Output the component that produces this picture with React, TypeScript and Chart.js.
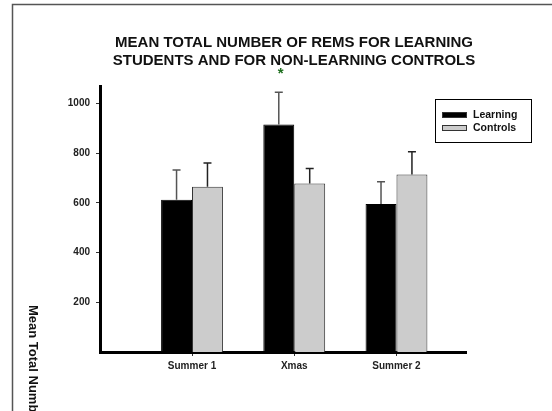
import { useEffect, useRef } from "react";
import { Chart, registerables } from "chart.js";

Chart.register(...registerables);

// Mean total REM counts per session, with the upper standard error
const categories = ["Summer 1", "Xmas", "Summer 2"];
const learningMeans = [612, 915, 595];
const learningErrors = [120, 130, 90];
const controlMeans = [665, 678, 714];
const controlErrors = [95, 60, 92];
const significance = ["", "*", ""];
const yTickValues = [200, 400, 600, 800, 1000];
const titleLines = [
  "MEAN TOTAL NUMBER OF REMS FOR LEARNING",
  "STUDENTS AND FOR NON-LEARNING CONTROLS",
];
const yAxisTitle = "Mean Total Number of REMs";
const seriesNames = ["Learning", "Controls"];

const FONT = "'Liberation Sans', Arial, Helvetica, sans-serif";

const toPoints = (values: number[]) =>
  values.map((v, i) => ({ x: i + 1, y: v }));

// Frame, title, rotated axis caption, error bars, significance mark, legend
const decorPlugin = {
  id: "decor",
  beforeDraw(chart: any) {
    const { ctx, width, height } = chart;
    ctx.save();
    ctx.fillStyle = "#ffffff";
    ctx.fillRect(0, 0, width, height);
    ctx.strokeStyle = "#555555";
    ctx.lineWidth = 1.5;
    ctx.beginPath();
    ctx.moveTo(12.5, height);
    ctx.lineTo(12.5, 4.5);
    ctx.lineTo(width, 4.5);
    ctx.stroke();
    ctx.restore();
  },
  afterDatasetsDraw(chart: any) {
    const { ctx } = chart;
    const yScale = chart.scales.y;
    const errSets = [learningErrors, controlErrors];
    const errColors = ["#555555", "#222222"];
    ctx.save();
    chart.data.datasets.forEach((ds: any, di: number) => {
      const meta = chart.getDatasetMeta(di);
      meta.data.forEach((bar: any, j: number) => {
        const mean = ds.data[j].y;
        const top = yScale.getPixelForValue(mean + errSets[di][j]);
        ctx.strokeStyle = errColors[di];
        ctx.lineWidth = 1.5;
        ctx.beginPath();
        ctx.moveTo(bar.x, bar.y);
        ctx.lineTo(bar.x, top);
        ctx.moveTo(bar.x - 4, top);
        ctx.lineTo(bar.x + 4, top);
        ctx.stroke();
      });
    });
    // significance markers above the learning bars
    const lMeta = chart.getDatasetMeta(0);
    ctx.fillStyle = "#1e6e1e";
    ctx.font = `bold 15px ${FONT}`;
    ctx.textAlign = "center";
    ctx.textBaseline = "middle";
    significance.forEach((s, j) => {
      if (!s) return;
      const bar = lMeta.data[j];
      const top = yScale.getPixelForValue(learningMeans[j] + learningErrors[j]);
      ctx.fillText(s, bar.x + 2, top - 18);
    });
    ctx.restore();
  },
  afterDraw(chart: any) {
    const { ctx } = chart;
    ctx.save();
    // title
    ctx.fillStyle = "#111111";
    ctx.font = `bold 15px ${FONT}`;
    ctx.textAlign = "center";
    ctx.textBaseline = "middle";
    titleLines.forEach((line, i) => ctx.fillText(line, 294, 43 + i * 18));

    // vertical caption, reading downwards
    ctx.save();
    ctx.translate(33, 305);
    ctx.rotate(Math.PI / 2);
    ctx.font = `bold 13px ${FONT}`;
    ctx.textAlign = "left";
    ctx.textBaseline = "middle";
    ctx.fillStyle = "#111111";
    ctx.fillText(yAxisTitle, 0, 0);
    ctx.restore();

    // legend
    const lx = 435.5, ly = 99.5, lw = 96, lh = 43;
    ctx.fillStyle = "#ffffff";
    ctx.fillRect(lx, ly, lw, lh);
    ctx.strokeStyle = "#000000";
    ctx.lineWidth = 1;
    ctx.strokeRect(lx, ly, lw, lh);
    ctx.font = `bold 10.5px ${FONT}`;
    ctx.textAlign = "left";
    ctx.textBaseline = "middle";
    chart.data.datasets.forEach((ds: any, i: number) => {
      const cy = 115 + i * 13;
      ctx.fillStyle = ds.backgroundColor;
      ctx.fillRect(442, cy - 3, 25, 6);
      ctx.strokeStyle = "#333333";
      ctx.strokeRect(442.5, cy - 2.5, 24, 5);
      ctx.fillStyle = "#111111";
      ctx.fillText(ds.label, 473, cy);
    });
    ctx.restore();
  },
};

export default function App() {
  const canvasRef = useRef<HTMLCanvasElement | null>(null);

  useEffect(() => {
    if (!canvasRef.current) return;
    const chart = new Chart(canvasRef.current, {
      type: "bar",
      data: {
        datasets: [
          {
            label: seriesNames[0],
            data: toPoints(learningMeans) as any,
            backgroundColor: "#000000",
            borderColor: "#000000",
            borderWidth: 1,
            categoryPercentage: 0.605,
            barPercentage: 1,
          },
          {
            label: seriesNames[1],
            data: toPoints(controlMeans) as any,
            backgroundColor: "#cccccc",
            borderColor: "#333333",
            borderWidth: 1,
            categoryPercentage: 0.605,
            barPercentage: 1,
          },
        ],
      },
      options: {
        responsive: false,
        animation: false,
        layout: { padding: { left: 12, top: 86, right: 86, bottom: 19 } },
        plugins: {
          legend: { display: false },
          title: { display: false },
          tooltip: { enabled: false },
        },
        scales: {
          x: {
            type: "linear",
            offset: false,
            min: 0.1,
            max: 3.68,
            afterBuildTicks: (s: any) => {
              s.ticks = categories.map((_, i) => ({ value: i + 1 }));
            },
            afterFit: (s: any) => {
              s.height = 40;
            },
            ticks: {
              callback: (v: any) => categories[Number(v) - 1] ?? "",
              color: "#222222",
              font: { family: FONT, size: 10, weight: "bold" },
              padding: 4,
              maxRotation: 0,
            },
            grid: {
              offset: false,
              drawOnChartArea: false,
              drawTicks: true,
              tickLength: 4,
              color: "#333333",
            },
            border: { display: true, width: 3, color: "#000000" },
          },
          y: {
            min: 0,
            max: 1070,
            afterBuildTicks: (s: any) => {
              s.ticks = yTickValues.map((v) => ({ value: v }));
            },
            afterFit: (s: any) => {
              s.width = 88;
            },
            ticks: {
              callback: (v: any) => String(v),
              color: "#222222",
              font: { family: FONT, size: 10, weight: "bold" },
              padding: 6,
            },
            grid: {
              drawOnChartArea: false,
              drawTicks: true,
              tickLength: 4,
              color: "#333333",
            },
            border: { display: true, width: 3, color: "#000000" },
          },
        },
      },
      plugins: [decorPlugin],
    });
    return () => chart.destroy();
  }, []);

  return (
    <div
      style={{
        position: "fixed",
        left: 0,
        top: 0,
        width: 552,
        height: 411,
        background: "#ffffff",
      }}
    >
      <canvas ref={canvasRef} width={552} height={411} />
    </div>
  );
}
